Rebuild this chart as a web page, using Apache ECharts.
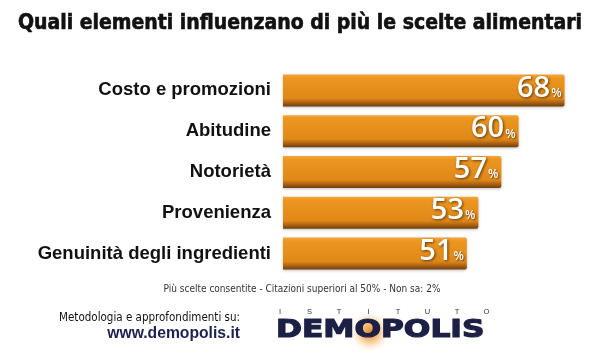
<!DOCTYPE html>
<html><head><meta charset="utf-8">
<script src="https://cdn.jsdelivr.net/npm/echarts@6/dist/echarts.min.js"></script>
<style>html,body{margin:0;padding:0;background:#fff}#c{width:600px;height:357px}</style>
</head><body><div id="c"></div>
<script>
const titleText = 'Quali elementi influenzano di più le scelte alimentari';
const categories = ['Costo e promozioni','Abitudine','Notorietà','Provenienza','Genuinità degli ingredienti'];
const values = [68, 60, 57, 53, 51];
const noteText = 'Più scelte consentite - Citazioni superiori al 50% - Non sa: 2%';
const logoSmall = ['I','S','T','I','T','U','T','O'];

const chart = echarts.init(document.getElementById('c'), null, {renderer:'canvas'});
const barColor = new echarts.graphic.LinearGradient(0,0,0,1,[
  {offset:0, color:'#F4A63A'},
  {offset:0.12, color:'#EC961F'},
  {offset:0.75, color:'#E08818'},
  {offset:0.85, color:'#B86A14'},
  {offset:1, color:'#6E3F0E'}
]);
const graphics = [
  {type:'text', x:302, y:289, style:{text:noteText, align:'center', verticalAlign:'middle', fontFamily:'DejaVu Sans Condensed', fontSize:10, fill:'#333'}},
  {type:'text', x:240, y:318, style:{text:'Metodologia e approfondimenti su:', align:'right', verticalAlign:'middle', fontFamily:'DejaVu Sans Condensed', fontSize:11.5, fill:'#111'}},
  {type:'text', x:240, y:334, style:{text:'www.demopolis.it', align:'right', verticalAlign:'middle', fontFamily:'Liberation Sans', fontWeight:'bold', fontSize:15.7, fill:'#1c2250'}},
  {type:'circle', shape:{cx:370, cy:332, r:20}, style:{fill:new echarts.graphic.RadialGradient(0.5,0.5,0.5,[
    {offset:0,color:'rgba(236,140,30,1)'},{offset:0.45,color:'rgba(240,165,75,0.65)'},{offset:1,color:'rgba(255,225,180,0)'}])}},
  {type:'text', x:276, y:330, scaleX:1.25, style:{text:'DEMOPOLIS', verticalAlign:'middle', fontFamily:'DejaVu Sans', fontWeight:'bold', fontSize:25, fill:'#1c2045', stroke:'#1c2045', lineWidth:1.2}}
];
logoSmall.forEach((ch,i)=>{
  graphics.push({type:'text', x:280+i*29.5, y:312, style:{text:ch, align:'center', verticalAlign:'middle', fontFamily:'Liberation Sans', fontSize:7.5, fill:'#333'}});
});
chart.setOption({
  animation:false,
  title:{text:titleText, left:'center', top:8,
    textStyle:{fontFamily:'DejaVu Sans Condensed', fontWeight:'bold', fontSize:21, color:'#111', textBorderColor:'#111', textBorderWidth:0.6}},
  grid:{left:283, right:1, top:70, bottom:83, containLabel:false},
  xAxis:{type:'value', min:19, max:74, show:false},
  yAxis:{type:'category', data:categories, inverse:true,
    axisLine:{show:false}, axisTick:{show:false},
    axisLabel:{margin:12, color:'#111', fontFamily:'Liberation Sans', fontWeight:'bold', fontSize:18.5}},
  series:[{type:'bar', data:values, barWidth:32,
    itemStyle:{color:barColor, borderRadius:[0,2,2,0], shadowColor:'rgba(0,0,0,0.25)', shadowBlur:3, shadowOffsetY:1},
    label:{show:true, position:'insideRight', distance:3, offset:[0,-2],
      formatter:p=>'{a|'+p.value+'}{b|%}',
      rich:{
        a:{fontFamily:'Open Sans', fontWeight:600, fontSize:29, color:'#fff',
           textShadowColor:'rgba(60,30,0,0.8)', textShadowBlur:3, textShadowOffsetX:1, textShadowOffsetY:1},
        b:{fontFamily:'Open Sans', fontWeight:600, fontSize:12, color:'#fff', padding:[10,0,0,1],
           textShadowColor:'rgba(60,30,0,0.8)', textShadowBlur:2, textShadowOffsetX:1, textShadowOffsetY:1}
      }}
  }],
  graphic:graphics
});
</script></body></html>
